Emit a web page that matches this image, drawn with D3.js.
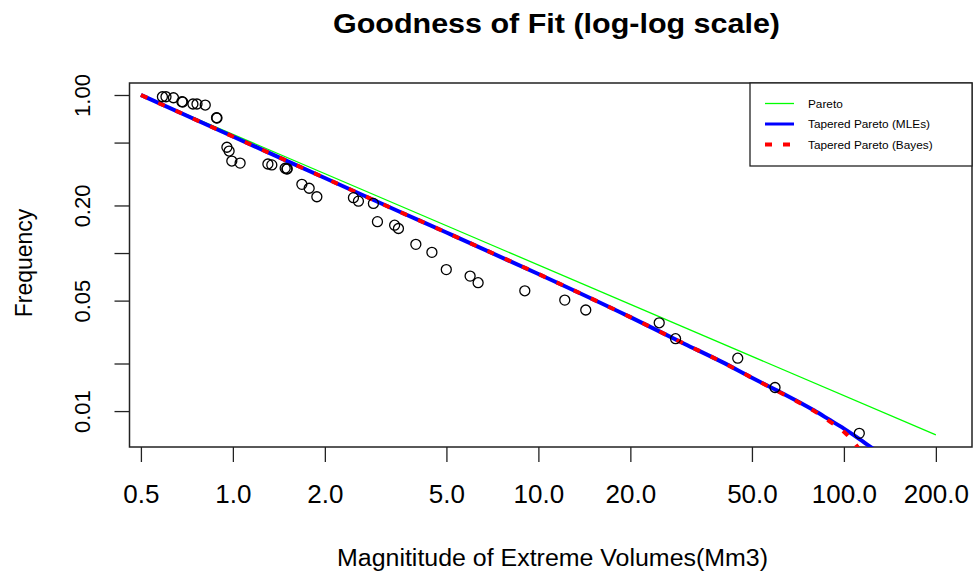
<!DOCTYPE html>
<html>
<head>
<meta charset="utf-8">
<script src="https://cdn.jsdelivr.net/npm/d3@7"></script>
<style>
  body { margin: 0; background: #fff; }
  svg { display: block; font-family: "Liberation Sans", Arial, sans-serif; }
</style>
</head>
<body>
<div id="chart"></div>
<script>
// Observed points (volume, empirical frequency)
const volumes = [0.588, 0.604, 0.639, 0.681, 0.685, 0.740, 0.763, 0.812, 0.884, 0.887,
  0.956, 0.972, 0.992, 1.056, 1.302, 1.341, 1.483, 1.502, 1.506, 1.682, 1.777, 1.883,
  2.481, 2.576, 2.884, 2.973, 3.384, 3.483, 3.971, 4.482, 4.995, 5.977, 6.349, 9.027,
  12.20, 14.29, 24.86, 28.12, 44.93, 59.50, 112.3];
const freqs = [0.975, 0.975, 0.961, 0.907, 0.903, 0.877, 0.877, 0.864, 0.718, 0.715,
  0.467, 0.442, 0.382, 0.371, 0.366, 0.361, 0.344, 0.340, 0.342, 0.272, 0.257, 0.227,
  0.224, 0.213, 0.206, 0.158, 0.150, 0.143, 0.1135, 0.101, 0.0786, 0.0715, 0.0649, 0.0577,
  0.0504, 0.0436, 0.0362, 0.0287, 0.0216, 0.0141, 0.00723];

// Fitted curves
const paretoX = [0.5, 200];
const paretoY = [1.0, 0.00706];
const mleX = [0.5, 1, 2, 3.5, 5, 10, 20, 30, 40, 50, 60, 70, 80, 90, 100, 115, 125];
const mleY = [1.0, 0.546, 0.2983, 0.1831, 0.1348, 0.0737, 0.0393, 0.0267, 0.0204, 0.01625,
  0.01358, 0.01162, 0.01007, 0.00877, 0.00775, 0.00646, 0.00575];
const bayesX = [0.5, 1, 2, 3.5, 5, 10, 20, 30, 40, 50, 60, 70, 80, 90, 100, 111, 116];
const bayesY = [1.0, 0.546, 0.2983, 0.1831, 0.1348, 0.0737, 0.0393, 0.0267, 0.0204, 0.01625,
  0.01350, 0.01155, 0.01000, 0.00858, 0.0074, 0.0059, 0.0052];

// Axes
const xTicks = [0.5, 1, 2, 5, 10, 20, 50, 100, 200];
const xTickLabels = ["0.5", "1.0", "2.0", "5.0", "10.0", "20.0", "50.0", "100.0", "200.0"];
const yTicks = [0.01, 0.02, 0.05, 0.1, 0.2, 0.5, 1];
const yTickLabels = ["0.01", "", "0.05", "", "0.20", "", "1.00"];

const legendNames = ["Pareto", "Tapered Pareto (MLEs)", "Tapered Pareto (Bayes)"];
const legendColors = ["#00ff00", "#0000ff", "#ff0000"];

const W = 976, H = 578;
const box = { left: 129.5, right: 972, top: 83, bottom: 447 };

const svg = d3.select('#chart').append('svg')
  .attr('width', W)
  .attr('height', H);

const x = d3.scaleLog()
  .domain([0.4588, 262.6])
  .range([box.left, box.right]);

const y = d3.scaleLog()
  .domain([0.005925, 1.191])
  .range([box.bottom, box.top]);

svg.append('defs').append('clipPath').attr('id', 'clip')
  .append('rect')
  .attr('x', box.left).attr('y', box.top)
  .attr('width', box.right - box.left).attr('height', box.bottom - box.top);

// x axis
const xAxis = svg.append('g')
  .attr('transform', `translate(0,${box.bottom})`)
  .call(d3.axisBottom(x).tickValues(xTicks).tickSize(15).tickFormat((d, i) => xTickLabels[i]));
xAxis.select('.domain').remove();
xAxis.selectAll('.tick line').attr('stroke', '#222').attr('stroke-width', 1.3);
xAxis.selectAll('.tick text')
  .attr('y', 56)
  .attr('dy', 0)
  .attr('fill', '#000')
  .style('font-size', '26px');

// y axis
const yAxis = svg.append('g')
  .attr('transform', `translate(${box.left},0)`)
  .call(d3.axisLeft(y).tickValues(yTicks).tickSize(15).tickFormat((d, i) => yTickLabels[i]));
yAxis.select('.domain').remove();
yAxis.selectAll('.tick line').attr('stroke', '#222').attr('stroke-width', 1.3);
yAxis.selectAll('.tick text')
  .attr('x', 0).attr('y', 0).attr('dy', 0)
  .attr('transform', 'translate(-40,0) rotate(-90)')
  .attr('text-anchor', 'middle')
  .attr('fill', '#000')
  .style('font-size', '22px');

// plot box
svg.append('rect')
  .attr('x', box.left).attr('y', box.top)
  .attr('width', box.right - box.left).attr('height', box.bottom - box.top)
  .attr('fill', 'none').attr('stroke', '#222').attr('stroke-width', 1.5);

// lines
const line = d3.line().x(d => x(d[0])).y(d => y(d[1])).curve(d3.curveMonotoneX);
const plot = svg.append('g').attr('clip-path', 'url(#clip)');

plot.append('path')
  .attr('d', line(d3.zip(paretoX, paretoY)))
  .attr('fill', 'none').attr('stroke', '#00ff00').attr('stroke-width', 1.3);

plot.append('path')
  .attr('d', line(d3.zip(mleX, mleY)))
  .attr('fill', 'none').attr('stroke', '#0000ff').attr('stroke-width', 4);

plot.append('path')
  .attr('d', line(d3.zip(bayesX, bayesY)))
  .attr('fill', 'none').attr('stroke', '#ff0000').attr('stroke-width', 4)
  .attr('stroke-dasharray', '7,12');

// points
svg.append('g').selectAll('circle')
  .data(d3.zip(volumes, freqs))
  .enter().append('circle')
  .attr('cx', d => x(d[0]))
  .attr('cy', d => y(d[1]))
  .attr('r', 5)
  .attr('fill', 'none')
  .attr('stroke', '#000')
  .attr('stroke-width', 1.3);

// legend
const lg = svg.append('g');
lg.append('rect')
  .attr('x', 750).attr('y', box.top)
  .attr('width', box.right - 750).attr('height', 83)
  .attr('fill', '#fff').attr('stroke', '#222').attr('stroke-width', 1.3);
legendNames.forEach((name, i) => {
  const ly = 103.5 + i * 20.5;
  const seg = lg.append('line')
    .attr('x1', 765).attr('x2', 794).attr('y1', ly).attr('y2', ly)
    .attr('stroke', legendColors[i])
    .attr('stroke-width', [1.3, 3, 4][i]);
  if (i === 2) seg.attr('stroke-dasharray', '7,11');
  lg.append('text')
    .attr('x', 808).attr('y', ly + 4)
    .style('font-size', '11.8px')
    .text(name);
});

// titles
svg.append('text')
  .attr('x', 556.5).attr('y', 33)
  .attr('text-anchor', 'middle')
  .style('font-size', '28px').style('font-weight', 'bold')
  .attr('textLength', 447).attr('lengthAdjust', 'spacingAndGlyphs')
  .text('Goodness of Fit (log-log scale)');

svg.append('text')
  .attr('x', 552.5).attr('y', 566)
  .attr('text-anchor', 'middle')
  .style('font-size', '23px')
  .attr('textLength', 431).attr('lengthAdjust', 'spacingAndGlyphs')
  .text('Magnititude of Extreme Volumes(Mm3)');

svg.append('text')
  .attr('transform', 'translate(32,263) rotate(-90)')
  .attr('text-anchor', 'middle')
  .style('font-size', '23px')
  .text('Frequency');
</script>
</body>
</html>
